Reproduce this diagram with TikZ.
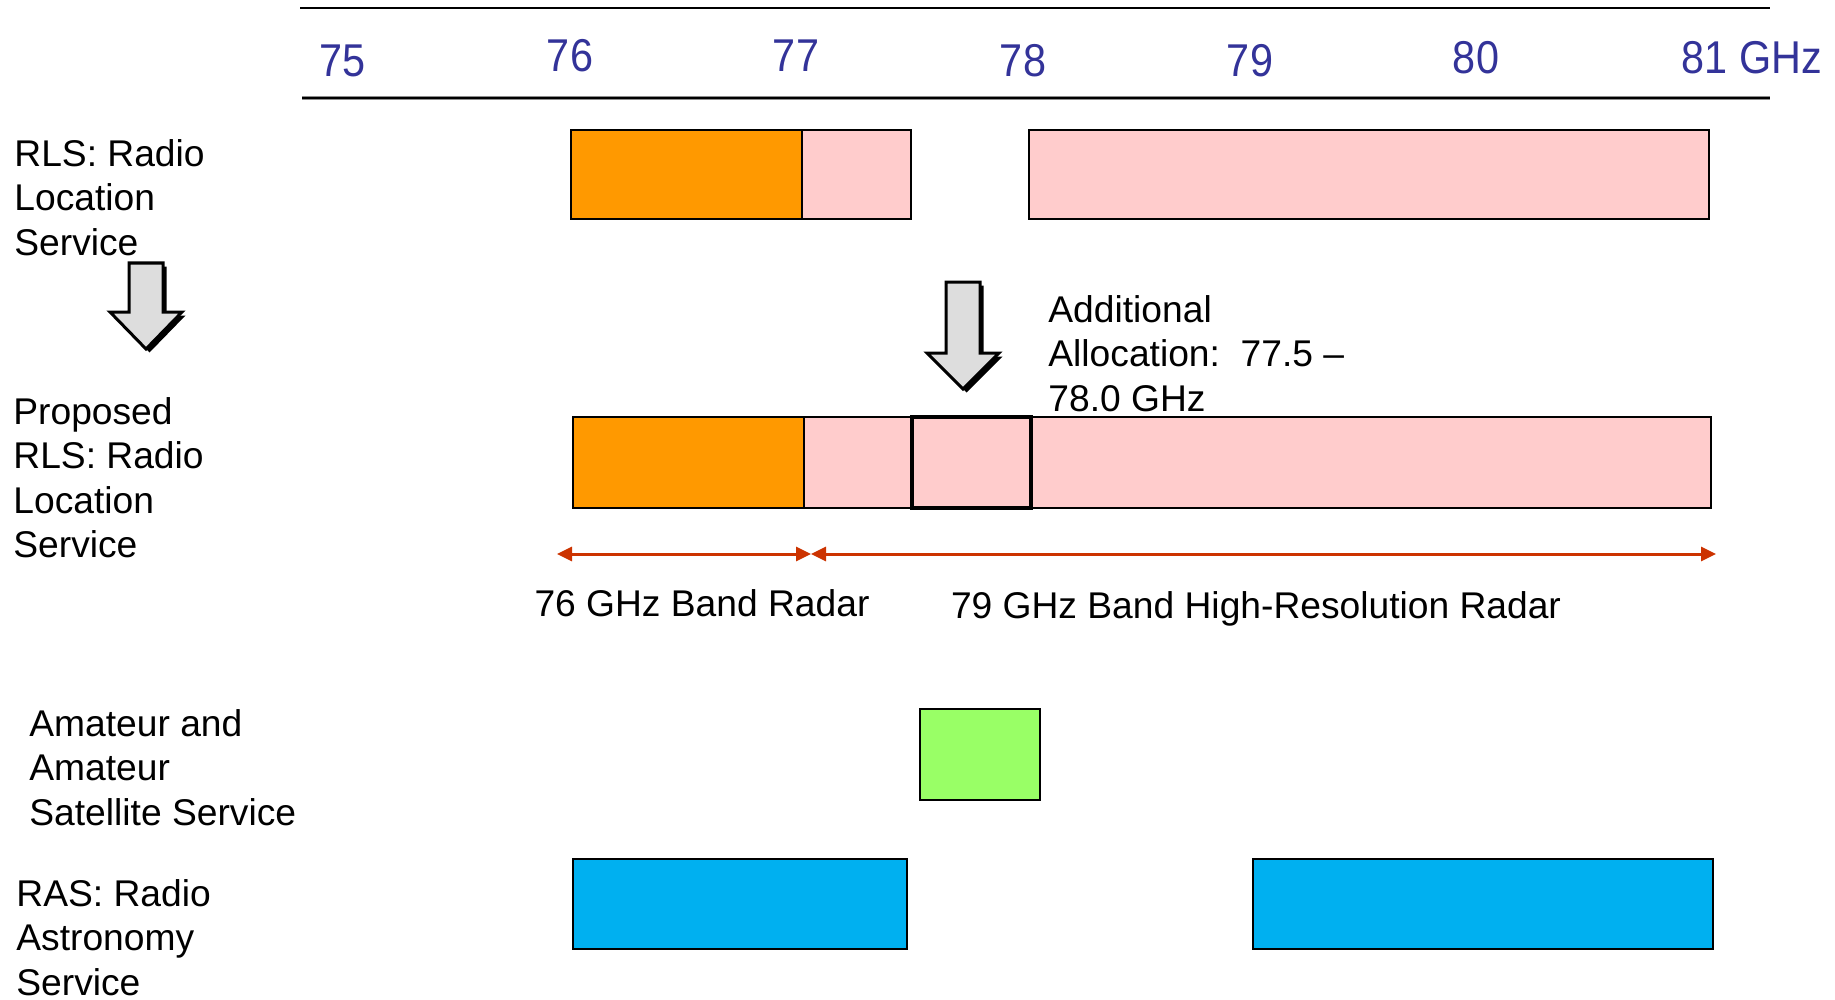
\documentclass[tikz,border=0pt]{standalone}
\usepackage{fontspec}
\setmainfont{Liberation Sans}
\usetikzlibrary{arrows.meta}
\frenchspacing
\definecolor{axisblue}{RGB}{51,51,153}
\definecolor{bandorange}{RGB}{255,153,0}
\definecolor{bandpink}{RGB}{255,204,204}
\definecolor{bandgreen}{RGB}{153,255,102}
\definecolor{bandblue}{RGB}{0,176,240}
\definecolor{radarred}{RGB}{204,51,0}
\definecolor{arrowgrey}{RGB}{221,221,221}
\tikzset{
  band/.style={draw=black, line width=1pt},
  ticklabel/.style={text=axisblue, inner sep=0pt, font=\fontsize{23}{27}\selectfont},
  rowlabel/.style={anchor=north west, align=left, inner sep=0pt, font=\fontsize{18.6}{22.25}\selectfont\frenchspacing},
  bandlabel/.style={inner sep=0pt, font=\fontsize{18.6}{22.25}\selectfont},
  radar/.style={draw=radarred, line width=1.5pt, {Triangle[length=7.5pt,width=7pt]}-{Triangle[length=7.5pt,width=7pt]}},
  blockarrow/.style={fill=arrowgrey, draw=black, line width=1.5pt, line join=miter},
  blockshadow/.style={fill=black}
}
\begin{document}
\begin{tikzpicture}[x=0.5pt,y=-0.5pt]
\path[use as bounding box] (0,0) rectangle (1835,1000);

% axis lines
\draw[line width=1.2pt] (300,8) -- (1770,8);
\draw[line width=2.2pt, black!45] (302,98) -- (1770,98);
\draw[line width=1.3pt] (302,98) -- (1770,98);

% tick labels
\node[ticklabel] (t75) at (343,61) {\scalebox{0.9}[1]{75}};
\node[ticklabel] (t76) at (570,56) {\scalebox{0.9}[1]{76}};
\node[ticklabel] (t77) at (796,56) {\scalebox{0.9}[1]{77}};
\node[ticklabel] (t78) at (1023,61) {\scalebox{0.9}[1]{78}};
\node[ticklabel] (t79) at (1250,61) {\scalebox{0.9}[1]{79}};
\node[ticklabel] (t80) at (1476,58) {\scalebox{0.9}[1]{80}};
\node[ticklabel] (t81) at (1752,58) {\scalebox{0.9}[1]{81 GHz}};

% Row 1: RLS
\draw[band, fill=bandorange] (571,130) rectangle (802,219);
\draw[band, fill=bandpink] (802,130) rectangle (911,219);
\draw[band, fill=bandpink] (1029,130) rectangle (1709,219);

% Row 2: proposed RLS
\draw[band, fill=bandorange] (573,417) rectangle (804,508);
\draw[band, fill=bandpink] (804,417) rectangle (1711,508);
\draw[line width=2pt] (912,417) rectangle (1031,508);

% Amateur
\draw[band, fill=bandgreen] (920,709) rectangle (1040,800);

% RAS
\draw[band, fill=bandblue] (573,859) rectangle (907,949);
\draw[band, fill=bandblue] (1253,859) rectangle (1713,949);

% radar extents
\coordinate (r76) at (557,554);
\coordinate (r77) at (811,554);
\coordinate (r81) at (1716,554);
\draw[radar] (r76) -- (r77);
\draw[radar] (r77) -- (r81);
\node[bandlabel] (l76) at (702,603) {76 GHz Band Radar};
\node[bandlabel] (l79) at (1256,609) {79 GHz Band High-Resolution Radar};

% block arrows
\begin{scope}[shift={(146,0)}]
  \fill[blockshadow] (-17+3.5,263+3.5) -- (17+3.5,263+3.5) -- (17+3.5,312+3.5) -- (36+3.5,312+3.5) -- (0+3.5,349+3.5) -- (-36+3.5,312+3.5) -- (-17+3.5,312+3.5) -- cycle;
  \draw[blockarrow] (-17,263) -- (17,263) -- (17,312) -- (36,312) -- (0,349) -- (-36,312) -- (-17,312) -- cycle;
\end{scope}
\begin{scope}[shift={(963,0)}]
  \fill[blockshadow] (-17+3.5,282+3.5) -- (17+3.5,282+3.5) -- (17+3.5,353+3.5) -- (36+3.5,353+3.5) -- (0+3.5,389+3.5) -- (-36+3.5,353+3.5) -- (-17+3.5,353+3.5) -- cycle;
  \draw[blockarrow] (-17,282) -- (17,282) -- (17,353) -- (36,353) -- (0,389) -- (-36,353) -- (-17,353) -- cycle;
\end{scope}

% row labels
\node[rowlabel] (rls) at (14,139) {RLS: Radio\\Location\\Service};
\node[rowlabel] (prls) at (13,397) {Proposed\\RLS: Radio\\Location\\Service};
\node[rowlabel] (ama) at (29,709) {Amateur and\\Amateur\\Satellite Service};
\node[rowlabel] (ras) at (16,879) {RAS: Radio\\Astronomy\\Service};
\node[rowlabel] (add) at (1048,295) {Additional\\Allocation:~ 77.5 –\\78.0 GHz};
\end{tikzpicture}
\end{document}
